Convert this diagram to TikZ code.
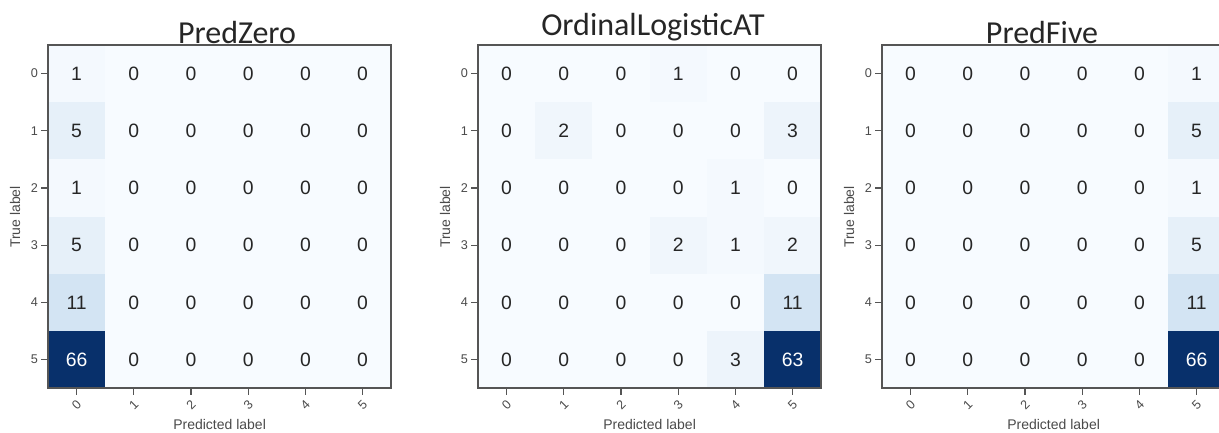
\documentclass[tikz,border=0pt]{standalone}
\usepackage{fontspec}
\setmainfont{Liberation Sans}
\newfontfamily\titlefont{Carlito}
\definecolor{numgray}{HTML}{262626}
\definecolor{framegray}{HTML}{555555}
\definecolor{ticktext}{HTML}{4A4A4A}
\definecolor{titlegray}{HTML}{262626}
\definecolor{blues0}{HTML}{F7FBFF}
\definecolor{blues1}{HTML}{F4F9FE}
\definecolor{blues2}{HTML}{F0F6FC}
\definecolor{blues3}{HTML}{EDF4FB}
\definecolor{blues5}{HTML}{E6F0F9}
\definecolor{blues11}{HTML}{D3E4F3}
\definecolor{blues63}{HTML}{08306B}
\definecolor{blues66}{HTML}{08306B}
\tikzset{
	cell/.style={inner sep=0pt,minimum width=42.9pt,minimum height=42.9pt,font=\fontsize{14.5}{14.5}\selectfont},%
	frame/.style={draw=framegray,line width=1.1pt},%
	tick/.style={draw=framegray,line width=0.8pt},%
	ticklbl/.style={text=ticktext,font=\fontsize{9.5}{9.5}\selectfont,inner sep=2pt},%
	axislbl/.style={text=ticktext,font=\fontsize{10.5}{10.5}\selectfont,inner sep=0pt},%
	titletxt/.style={text=titlegray,font=\titlefont\fontsize{24}{24}\selectfont,inner sep=0pt},%
}
\def\cellsize{57.2}
\def\gridtop{45}
\def\gridbot{388.2}
% one confusion matrix: name, left edge, title x, title baseline, title, rows
\newcommand{\confmat}[6]{%
	\foreach \rowvals [count=\r from 0] in {#6}{
		\foreach \v [count=\c from 0] in \rowvals{
			\ifnum\v>33 \def\numcol{white}\else\def\numcol{numgray}\fi
			\node[cell,fill=blues\v,text=\numcol] (#1-\r-\c) at ({#2+(\c+0.5)*\cellsize},{\gridtop+(\r+0.5)*\cellsize}) {\v};
		}
	}
	\draw[frame] (#2,\gridtop) rectangle ({#2+6*\cellsize},\gridbot);
	\foreach \k in {0,...,5}{
		\draw[tick] (#2,{\gridtop+(\k+0.5)*\cellsize}) -- ++(-7,0) node[ticklbl,left] (#1-yt\k) {\k};
		\draw[tick] ({#2+(\k+0.5)*\cellsize},\gridbot) -- ++(0,7);
		\node[ticklbl,rotate=45] (#1-xt\k) at ({#2+(\k+0.5)*\cellsize},405) {\k};
	}
	\node[axislbl,rotate=90] (#1-ylab) at (#2-33,217) {True label};
	\node[axislbl] (#1-xlab) at ({#2+3*\cellsize},424) {Predicted label};
	\node[titletxt,anchor=base] (#1-title) at (#3,#4) {#5};
}
\begin{document}
\begin{tikzpicture}[x=0.75pt,y=-0.75pt]
	\useasboundingbox (0,0) rectangle (1219,432);
	\clip (0,0) rectangle (1219,432);
	\confmat{pz}{48}{237}{43}{PredZero}{{1,0,0,0,0,0},{5,0,0,0,0,0},{1,0,0,0,0,0},{5,0,0,0,0,0},{11,0,0,0,0,0},{66,0,0,0,0,0}}
	\confmat{ol}{478}{653}{35}{OrdinalLogisticAT}{{0,0,0,1,0,0},{0,2,0,0,0,3},{0,0,0,0,1,0},{0,0,0,2,1,2},{0,0,0,0,0,11},{0,0,0,0,3,63}}
	\confmat{pf}{882}{1042}{43}{PredFive}{{0,0,0,0,0,1},{0,0,0,0,0,5},{0,0,0,0,0,1},{0,0,0,0,0,5},{0,0,0,0,0,11},{0,0,0,0,0,66}}
\end{tikzpicture}
\end{document}
